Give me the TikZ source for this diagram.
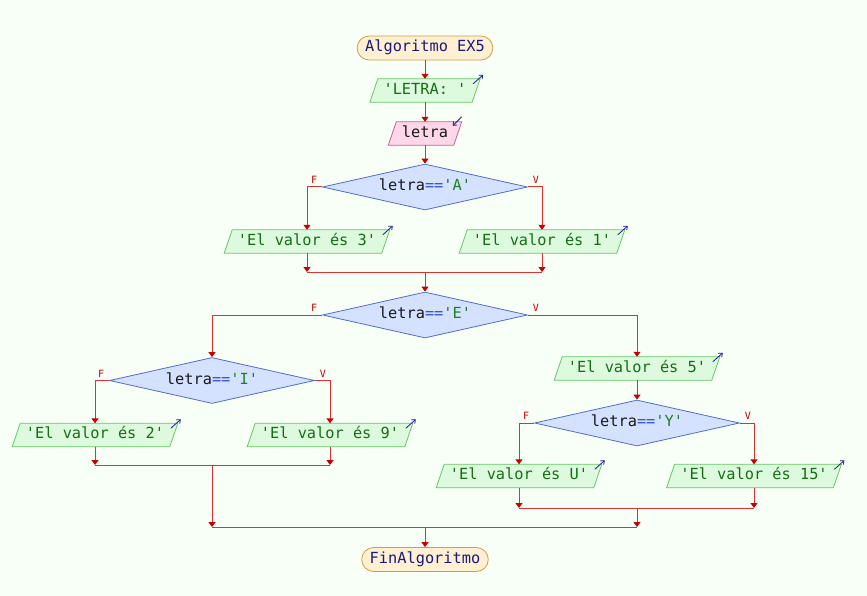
\documentclass[tikz,border=0pt]{standalone}
\usepackage{fontspec}
\newfontfamily\mono{DejaVu Sans Mono}
\usetikzlibrary{shapes.geometric,arrows.meta,backgrounds,calc}
\definecolor{bg}{RGB}{247,255,247}
\definecolor{outfill}{RGB}{222,250,222}
\definecolor{outdraw}{RGB}{100,200,100}
\definecolor{outtext}{RGB}{20,110,20}
\definecolor{infill}{RGB}{255,215,232}
\definecolor{indraw}{RGB}{210,90,150}
\definecolor{decfill}{RGB}{212,225,255}
\definecolor{decdraw}{RGB}{80,110,205}
\definecolor{termfill}{RGB}{255,240,210}
\definecolor{termdraw}{RGB}{210,155,70}
\definecolor{termtext}{RGB}{25,25,130}
\definecolor{flowc}{RGB}{220,50,50}
\definecolor{tipc}{RGB}{200,0,0}
\definecolor{opblue}{RGB}{50,80,210}
\definecolor{strgreen}{RGB}{30,130,30}
\definecolor{iconblue}{RGB}{30,30,150}
\newcommand\q{\textquotesingle}
\begin{document}
\begin{tikzpicture}[x=1pt,y=-1pt,
  font=\mono\fontsize{15.3}{18}\selectfont,
  term/.style={rectangle,rounded corners=12pt,draw=termdraw,fill=termfill,text=termtext,minimum height=24pt,inner xsep=8pt,inner ysep=0pt,text height=11pt,text depth=3.5pt,line width=0.8pt},
  outbox/.style={rectangle,inner xsep=9.5pt,inner ysep=0pt,minimum height=23pt,text height=11pt,text depth=3.5pt,text=outtext},
  inbox/.style={outbox,text=black!90},
  decision/.style={diamond,draw=decdraw,fill=decfill,line width=0.8pt,minimum width=205pt,minimum height=46pt,aspect=4.46,inner sep=0pt,text height=11pt,text depth=3.5pt,text=black!90},
  flow/.style={draw=flowc,line width=1pt,-{Triangle[width=7pt,length=5pt,color=tipc]}},
  plainline/.style={draw=flowc,line width=1pt},
  br/.style={text=tipc,font=\mono\fontsize{10}{12}\selectfont,inner sep=0pt},
  icon/.style={draw=iconblue,line width=0.8pt,-{Straight Barb[length=3pt,width=5pt]}}
]
% nodes
\node[term] (start) at (425,48) {Algoritmo EX5};
\node[outbox] (o0) at (425,90.5) {\q LETRA: \q};
\node[inbox] (in1) at (425,133.5) {letra};
\node[decision] (d1) at (425,187) {letra{\color{opblue}==}{\color{strgreen}\q A\q}};
\node[outbox] (o3) at (307,241.5) {\q{}El valor és 3\q};
\node[outbox] (o1) at (542,241.5) {\q{}El valor és 1\q};
\node[decision] (d2) at (425,315) {letra{\color{opblue}==}{\color{strgreen}\q E\q}};
\node[decision] (d3) at (212,380.5) {letra{\color{opblue}==}{\color{strgreen}\q I\q}};
\node[outbox] (o2) at (95,435) {\q{}El valor és 2\q};
\node[outbox] (o9) at (330,435) {\q{}El valor és 9\q};
\node[outbox] (o5) at (637,368.5) {\q{}El valor és 5\q};
\node[decision] (d4) at (637,423) {letra{\color{opblue}==}{\color{strgreen}\q Y\q}};
\node[outbox] (oU) at (519,476) {\q{}El valor és U\q};
\node[outbox] (o15) at (754,476) {\q{}El valor és 15\q};
\node[term] (end) at (425,559.5) {FinAlgoritmo};

% background and parallelograms
\begin{scope}[on background layer]
  \path[use as bounding box,fill=bg] (0,0) rectangle (867,596);
  \foreach \n in {o0,o3,o1,o2,o9,o5,oU,o15}
    \filldraw[fill=outfill,draw=outdraw,line width=0.8pt]
      ($(\n.south west)+(-4,0)$) -- ($(\n.north west)+(4,0)$) --
      ($(\n.north east)+(4,0)$) -- ($(\n.south east)+(-4,0)$) -- cycle;
  \filldraw[fill=infill,draw=indraw,line width=0.8pt]
      ($(in1.south west)+(-4,0)$) -- ($(in1.north west)+(4,0)$) --
      ($(in1.north east)+(4,0)$) -- ($(in1.south east)+(-4,0)$) -- cycle;
\end{scope}

% io icons
\foreach \n in {o0,o3,o1,o2,o9,o5,oU,o15}
  \draw[icon] ($(\n.north east)+(-3,5)$) -- ($(\n.north east)+(7,-4)$);
\draw[icon] ($(in1.north east)+(4,-5)$) -- ($(in1.north east)+(-5,4)$);

% join points
\coordinate (j1) at (425,272);
\coordinate (j3) at (212,465);
\coordinate (j4) at (637,508);
\coordinate (j5) at (425,527);

% connectors
\draw[flow] (start.south) -- (o0.north);
\draw[flow] (o0.south) -- (in1.north);
\draw[flow] (in1.south) -- (d1.north);
\draw[flow] (d1.west) -| (o3.north);
\draw[flow] (d1.east) -| (o1.north);
\draw[flow] (o3.south) -- (o3.south |- j1);
\draw[flow] (o1.south) -- (o1.south |- j1);
\draw[plainline] (o3.south |- j1) -- (o1.south |- j1);
\draw[flow] (j1) -- (d2.north);
\draw[flow] (d2.west) -| (d3.north);
\draw[flow] (d2.east) -| (o5.north);
\draw[flow] (d3.west) -| (o2.north);
\draw[flow] (d3.east) -| (o9.north);
\draw[flow] (o2.south) -- (o2.south |- j3);
\draw[flow] (o9.south) -- (o9.south |- j3);
\draw[plainline] (o2.south |- j3) -- (o9.south |- j3);
\draw[flow] (j3) -- (j3 |- j5);
\draw[flow] (o5.south) -- (d4.north);
\draw[flow] (d4.west) -| (oU.north);
\draw[flow] (d4.east) -| (o15.north);
\draw[flow] (oU.south) -- (oU.south |- j4);
\draw[flow] (o15.south) -- (o15.south |- j4);
\draw[plainline] (oU.south |- j4) -- (o15.south |- j4);
\draw[flow] (j4) -- (j4 |- j5);
\draw[plainline] (j3 |- j5) -- (j4 |- j5);
\draw[flow] (j5) -- (end.north);

% branch labels
\node[br] (f1) at ($(d1.west)+(-8,-7)$) {F};
\node[br] (v1) at ($(d1.east)+(8,-7)$) {V};
\node[br] (f2) at ($(d2.west)+(-8,-7)$) {F};
\node[br] (v2) at ($(d2.east)+(8,-7)$) {V};
\node[br] (f3) at ($(d3.west)+(-8,-7)$) {F};
\node[br] (v3) at ($(d3.east)+(8,-7)$) {V};
\node[br] (f4) at ($(d4.west)+(-8,-7)$) {F};
\node[br] (v4) at ($(d4.east)+(8,-7)$) {V};
\end{tikzpicture}
\end{document}
